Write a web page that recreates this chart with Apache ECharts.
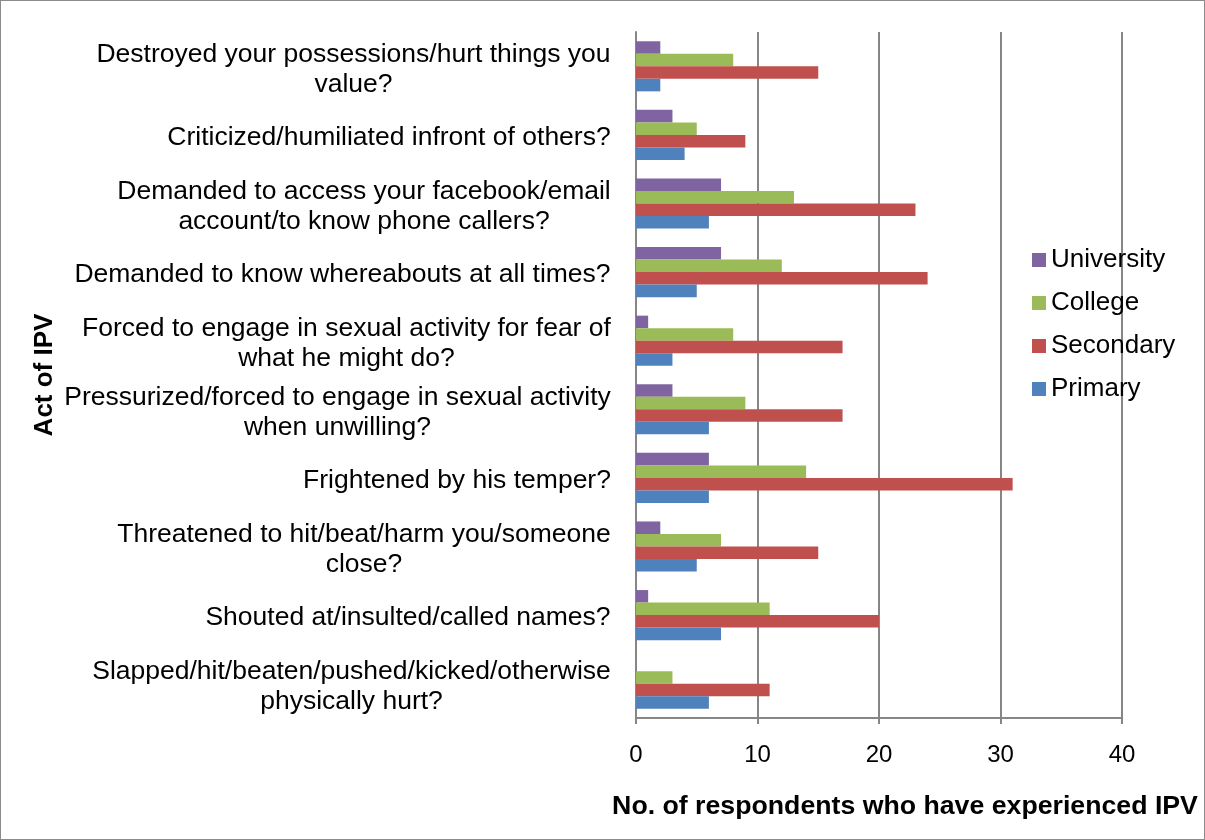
<!DOCTYPE html>
<html>
<head>
<meta charset="utf-8">
<script src="https://cdn.jsdelivr.net/npm/echarts@6/dist/echarts.min.js"></script>
<style>
  html, body { margin: 0; padding: 0; background: #fff; }
  #chart { width: 1205px; height: 840px; box-sizing: border-box; border: 1px solid #8c8c8c; }
</style>
</head>
<body>
<div id="chart"></div>
<script>
// Acts of IPV, listed bottom to top (category axis order)
const categories = [
  "Slapped/hit/beaten/pushed/kicked/otherwise\nphysically hurt?",
  "Shouted at/insulted/called names?",
  "Threatened to hit/beat/harm you/someone\nclose?",
  "Frightened by his temper?",
  "Pressurized/forced to engage in sexual activity\nwhen unwilling?",
  "Forced to engage in sexual activity for fear of\nwhat he might do?",
  "Demanded to know whereabouts at all times?",
  "Demanded to access your facebook/email\naccount/to know phone callers?",
  "Criticized/humiliated infront of others?",
  "Destroyed your possessions/hurt things you\nvalue?"
];
const primary    = [6, 7, 5, 6, 6, 3, 5, 6, 4, 2];
const secondary  = [11, 20, 15, 31, 17, 17, 24, 23, 9, 15];
const college    = [3, 11, 7, 14, 9, 8, 12, 13, 5, 8];
const university = [0, 1, 2, 6, 3, 1, 7, 7, 3, 2];
const xTicks = [0, 10, 20, 30, 40];

const FONT = '"Liberation Sans", Arial, sans-serif';
const LABEL_SIZE = 26.5;

// Each multi-line label is centred within its own widest line
const ctx = document.createElement('canvas').getContext('2d');
ctx.font = LABEL_SIZE + 'px ' + FONT;
const rich = {};
categories.forEach((c, i) => {
  const w = Math.max(...c.split('\n').map(s => ctx.measureText(s).width));
  rich['r' + i] = { width: Math.ceil(w), align: 'center', fontSize: LABEL_SIZE, fontFamily: FONT, color: '#000', lineHeight: 30 };
});

const chart = echarts.init(document.getElementById('chart'));
const mk = (name, data, color) => ({
  name, type: 'bar', data,
  barGap: '0%', barCategoryGap: '27%',
  itemStyle: { color },
  animation: false
});

chart.setOption({
  animation: false,
  textStyle: { fontFamily: FONT },
  grid: { left: 635, right: 82, top: 31, bottom: 121, containLabel: false },
  legend: {
    orient: 'vertical',
    left: 1026, top: 241,
    itemWidth: 14, itemHeight: 14, itemGap: 17,
    icon: 'rect',
    data: ['University', 'College', 'Secondary', 'Primary'],
    textStyle: { fontSize: 26, lineHeight: 26, color: '#000', fontFamily: FONT, padding: [0, 0, 0, 0] }
  },
  xAxis: {
    type: 'value', min: 0, max: 40, interval: 10,
    name: 'No. of respondents who have experienced IPV',
    nameLocation: 'middle', nameGap: 75,
    nameTextStyle: { fontSize: 26.7, fontWeight: 'bold', color: '#000', fontFamily: FONT, padding: [0, 0, 0, 52] },
    axisLine: { show: true, lineStyle: { color: '#868686', width: 2 } },
    axisTick: { show: true, length: 6, lineStyle: { color: '#868686', width: 2 } },
    axisLabel: { fontSize: 24, color: '#000', margin: 25, fontFamily: FONT,
      formatter: v => xTicks.includes(v) ? String(v) : '' },
    splitLine: { show: true, lineStyle: { color: '#868686', width: 2 } }
  },
  yAxis: {
    type: 'category', data: categories,
    name: 'Act of IPV', nameLocation: 'middle', nameGap: 578, nameRotate: 90,
    nameTextStyle: { fontSize: 26, fontWeight: 'bold', color: '#000', fontFamily: FONT },
    axisLine: { show: true, lineStyle: { color: '#868686', width: 2 } },
    axisTick: { show: false },
    axisLabel: {
      margin: 25, align: 'right', padding: [6, 0, 0, 0],
      formatter: (v, i) => v.split('\n').map(s => '{r' + i + '|' + s + '}').join('\n'),
      rich
    }
  },
  series: [
    mk('University', university, '#8064A2'),
    mk('College', college, '#9BBB59'),
    mk('Secondary', secondary, '#C0504D'),
    mk('Primary', primary, '#4F81BD')
  ]
});
</script>
</body>
</html>
